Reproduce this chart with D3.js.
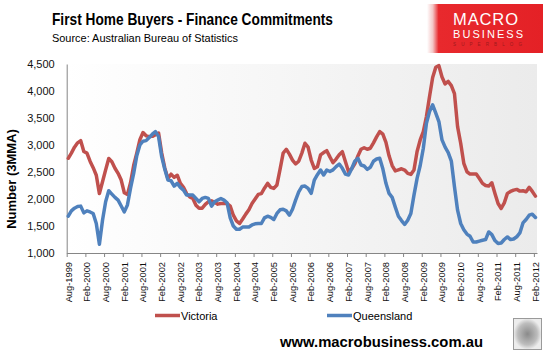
<!DOCTYPE html>
<html><head><meta charset="utf-8">
<script src="https://cdn.jsdelivr.net/npm/d3@7"></script>
<style>body{margin:0;background:#fff}svg{display:block}</style>
</head><body>
<script>
const startMonth = new Date(1999, 7, 1); // Aug-1999
const monthCount = 151;                  // Aug-1999 .. Feb-2012
const victoria = [2754,2850,2960,3040,3080,2880,2850,2700,2580,2440,2100,2320,2540,2750,2690,2570,2475,2350,2115,2085,
2300,2620,2850,3100,3230,3170,3155,3160,3190,3220,2850,2570,2380,2460,2400,2440,2290,2215,2100,2040,
2010,1886,1830,1830,1900,1950,1966,1940,1905,1915,1917,1917,1868,1700,1595,1546,1630,1720,1800,1917,
2000,2085,2100,2200,2290,2215,2196,2260,2550,2850,2921,2830,2720,2648,2700,2850,3033,2960,2722,2568,
2598,2815,2860,2895,2780,2672,2740,2820,2877,2690,2505,2560,2650,2797,2921,2950,2921,2940,3040,3150,
3248,3200,3050,2800,2620,2520,2540,2560,2537,2475,2456,2537,2880,3094,3250,3527,3900,4250,4440,4469,
4260,4130,4177,4100,3950,3341,3033,2661,2505,2462,2462,2462,2380,2290,2250,2239,2301,2104,1917,1825,
1929,2104,2140,2165,2178,2146,2152,2135,2215,2140,2053];
const queensland = [1682,1780,1830,1860,1868,1743,1780,1760,1732,1546,1162,1608,1950,2152,2090,2030,1979,1870,1762,1890,
2200,2475,2800,3000,3070,3081,3140,3200,3248,3155,2784,2550,2350,2338,2239,2290,2215,2165,2072,2072,
2072,2010,1948,2010,2029,2010,1868,1948,1980,2010,1980,1930,1650,1500,1440,1440,1480,1483,1483,1520,
1540,1546,1546,1650,1682,1660,1620,1732,1800,1810,1780,1700,1810,1980,2133,2230,2240,2196,2104,2350,
2450,2537,2444,2537,2510,2540,2600,2648,2568,2462,2444,2560,2700,2754,2630,2611,2549,2587,2700,2740,
2754,2560,2290,2104,2030,1850,1680,1600,1528,1608,1732,2072,2382,2620,2940,3400,3620,3744,3590,3434,
3094,2960,2860,2700,2226,1793,1546,1430,1350,1310,1204,1204,1220,1236,1249,1390,1340,1230,1175,1186,
1250,1297,1249,1260,1300,1372,1557,1620,1700,1719,1658];
const xTickLabels = ["Aug-1999","Feb-2000","Aug-2000","Feb-2001","Aug-2001","Feb-2002","Aug-2002","Feb-2003","Aug-2003",
"Feb-2004","Aug-2004","Feb-2005","Aug-2005","Feb-2006","Aug-2006","Feb-2007","Aug-2007","Feb-2008","Aug-2008",
"Feb-2009","Aug-2009","Feb-2010","Aug-2010","Feb-2011","Aug-2011","Feb-2012"];
const yTicks = [1000,1500,2000,2500,3000,3500,4000,4500];
const seriesNames = ["Victoria","Queensland"];
const seriesColors = ["#C0504D","#4F81BD"];

const fmtMonth = d3.timeFormat("%b-%Y");
const months = d3.range(monthCount).map(i => fmtMonth(d3.timeMonth.offset(startMonth, i)));

const W = 550, H = 355;
const svg = d3.select("body").append("svg").attr("width", W).attr("height", H);
const defs = svg.append("defs");

const L = 66.7, R = 537, T = 64, B = 253;
const x = d3.scaleBand().domain(months).range([L, R]).padding(0);
const xEdge = d3.scaleLinear().domain([0, monthCount]).range([L, R]);
const y = d3.scaleLinear().domain([1000, 4500]).range([B, T]);

// plot background gradient
const bg = defs.append("linearGradient").attr("id","bg").attr("x1","0").attr("x2","1").attr("y1","0").attr("y2","0");
bg.append("stop").attr("offset","0").attr("stop-color","#ffffff");
bg.append("stop").attr("offset","1").attr("stop-color","#ebebeb");
svg.append("rect").attr("x", L).attr("y", T).attr("width", R - L).attr("height", B - T).attr("fill", "url(#bg)");

// titles
svg.append("text").attr("x", 52).attr("y", 25).attr("font-family","Liberation Sans, Arial, sans-serif")
  .attr("font-weight","bold").attr("font-size",16.5).attr("fill","#000")
  .attr("textLength",281).attr("lengthAdjust","spacingAndGlyphs")
  .text("First Home Buyers - Finance Commitments");
svg.append("text").attr("x", 52).attr("y", 41.5).attr("font-family","Liberation Sans, Arial, sans-serif")
  .attr("font-size",11).attr("fill","#000")
  .attr("textLength",186).attr("lengthAdjust","spacingAndGlyphs")
  .text("Source: Australian Bureau of Statistics");

// logo
const lg = defs.append("linearGradient").attr("id","lg").attr("x1","0").attr("x2","1").attr("y1","0").attr("y2","0");
lg.append("stop").attr("offset","0").attr("stop-color","#ffffff");
lg.append("stop").attr("offset","0.05").attr("stop-color","#f4c6c6");
lg.append("stop").attr("offset","0.1").attr("stop-color","#e8292d");
lg.append("stop").attr("offset","1").attr("stop-color","#e42126");
svg.append("rect").attr("x",427).attr("y",4).attr("width",116).attr("height",49).attr("fill","url(#lg)");
svg.append("text").attr("x",453).attr("y",25).attr("font-family","Liberation Sans, Arial, sans-serif")
  .attr("font-size",16.5).attr("fill","#fff").attr("textLength",65).attr("lengthAdjust","spacing").text("MACRO");
svg.append("text").attr("x",453).attr("y",37.5).attr("font-family","Liberation Sans, Arial, sans-serif")
  .attr("font-size",11).attr("fill","#fff").attr("textLength",70).attr("lengthAdjust","spacing").text("BUSINESS");
svg.append("text").attr("x",453).attr("y",45.5).attr("font-family","Liberation Sans, Arial, sans-serif")
  .attr("font-size",4.5).attr("fill","#9e1a1d").attr("textLength",69).attr("lengthAdjust","spacing").text("SUPERBLOG");

// y axis
const yAxis = svg.append("g").attr("transform",`translate(${L},0)`)
  .call(d3.axisLeft(y).tickValues(yTicks).tickFormat(d3.format(",")).tickSize(0).tickPadding(12));
yAxis.select(".domain").attr("stroke","#868686").attr("stroke-width",1);
yAxis.selectAll("text").attr("font-family","Liberation Sans, Arial, sans-serif").attr("font-size",11).attr("fill","#111");

svg.append("text").attr("transform","translate(16,179) rotate(-90)").attr("text-anchor","middle")
  .attr("font-family","Liberation Sans, Arial, sans-serif").attr("font-weight","bold").attr("font-size",13)
  .attr("fill","#000").text("Number (3MMA)");

// x axis: tick marks at category edges, labels centered on categories
const tickIdx = d3.range(0, monthCount, 6);
const xTickAxis = svg.append("g").attr("transform",`translate(0,${B})`)
  .call(d3.axisBottom(xEdge).tickValues(tickIdx.concat([monthCount])).tickFormat("").tickSizeInner(4).tickSizeOuter(0));
xTickAxis.select(".domain").attr("stroke","#868686");
xTickAxis.selectAll(".tick line").attr("stroke","#868686");
xTickAxis.selectAll(".tick").filter(d => d === monthCount).remove();

const labelMonths = tickIdx.map(i => months[i]);
const xLabAxis = svg.append("g").attr("transform",`translate(0,${B})`)
  .call(d3.axisBottom(x).tickValues(labelMonths).tickFormat((d, i) => xTickLabels[i]).tickSize(0));
xLabAxis.select(".domain").remove();
xLabAxis.selectAll("text").attr("font-family","Liberation Sans, Arial, sans-serif").attr("font-size",9.3).attr("fill","#111")
  .attr("text-anchor","end").attr("transform","rotate(-90)").attr("x",-9).attr("y",0).attr("dy","0.35em");

// lines
const line = d3.line().x((d, i) => x(months[i]) + x.bandwidth() / 2).y(d => y(d)).curve(d3.curveLinear);
[victoria, queensland].forEach((s, k) => {
  svg.append("path").datum(s).attr("d", line).attr("fill","none").attr("stroke", seriesColors[k])
    .attr("stroke-width",3.5).attr("stroke-linejoin","round").attr("stroke-linecap","round");
});

// legend
const legendX = [155, 327];
seriesNames.forEach((n, k) => {
  svg.append("line").attr("x1",legendX[k]).attr("x2",legendX[k]+25).attr("y1",315.5).attr("y2",315.5)
    .attr("stroke",seriesColors[k]).attr("stroke-width",3.5);
  svg.append("text").attr("x",legendX[k]+26).attr("y",319.5).attr("font-family","Liberation Sans, Arial, sans-serif")
    .attr("font-size",11).attr("fill","#000").text(n);
});

// footer
svg.append("text").attr("x",280).attr("y",347).attr("font-family","Liberation Sans, Arial, sans-serif")
  .attr("font-weight","bold").attr("font-size",15).attr("fill","#000")
  .attr("textLength",203).attr("lengthAdjust","spacingAndGlyphs").text("www.macrobusiness.com.au");

// wolf icon placeholder box
const wg = defs.append("radialGradient").attr("id","wg");
wg.append("stop").attr("offset","0").attr("stop-color","#8a8a8a");
wg.append("stop").attr("offset","0.7").attr("stop-color","#bdbdbd");
wg.append("stop").attr("offset","1").attr("stop-color","#ececec");
svg.append("rect").attr("x",513.5).attr("y",318.5).attr("width",28).attr("height",31)
  .attr("fill","url(#wg)").attr("stroke","#9a9a9a");
</script>
</body></html>
